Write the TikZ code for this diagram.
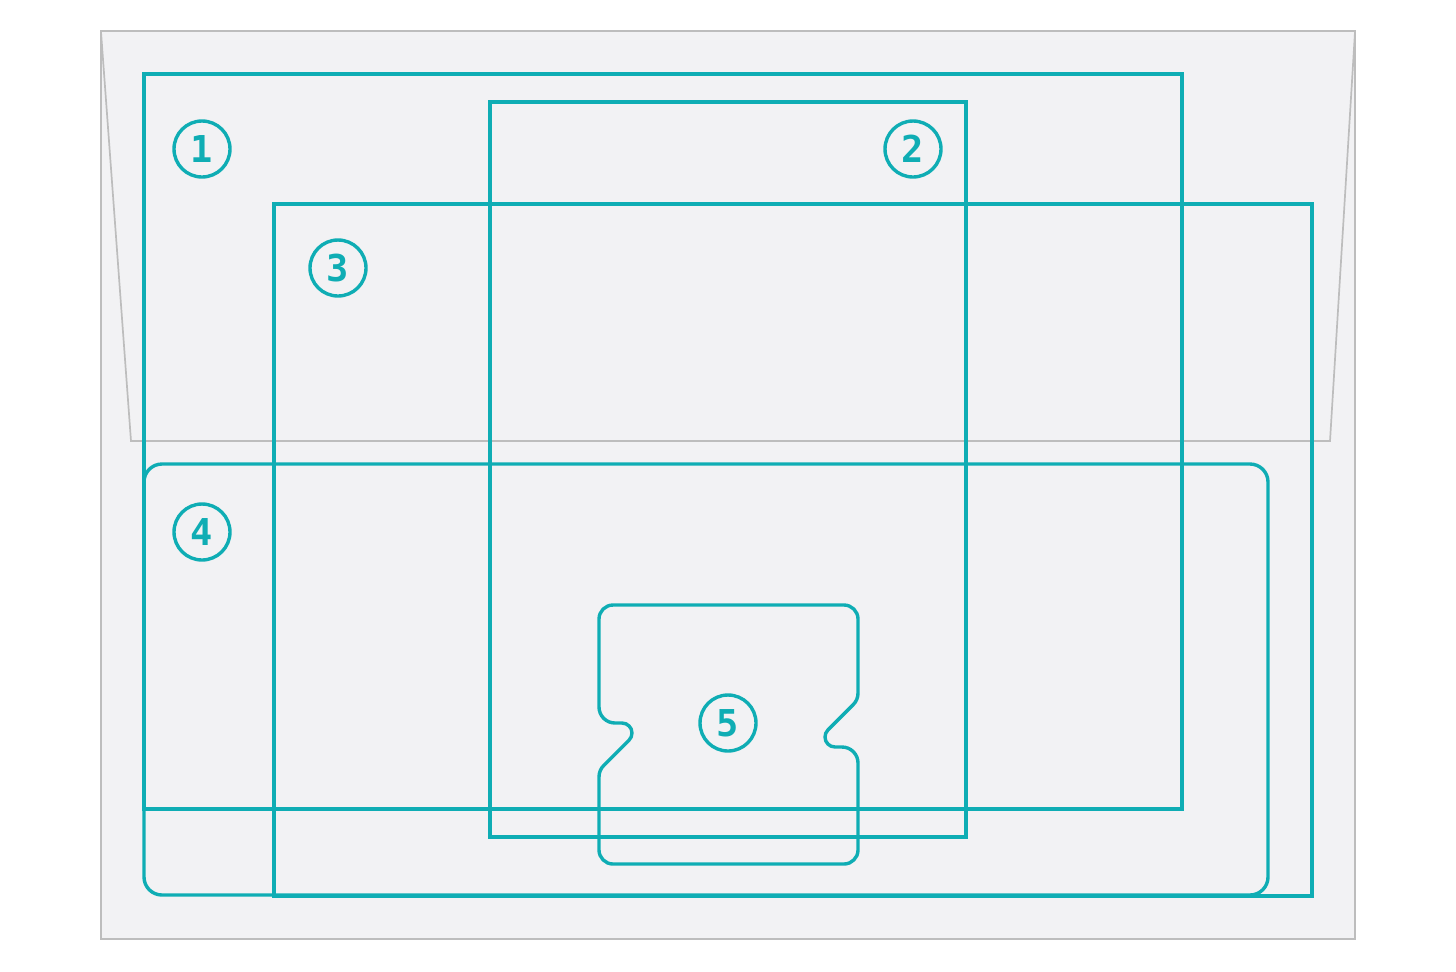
\documentclass[tikz,border=0pt]{standalone}
\usepackage{fontspec}
\newfontfamily\numfont{DejaVu Sans Mono}
\definecolor{tealc}{HTML}{0FADB4}
\definecolor{envfill}{HTML}{F2F2F4}
\definecolor{envline}{HTML}{BDBDBD}
\tikzset{
  cut/.style={draw=tealc, line width=1.7pt, line join=miter},
  env/.style={draw=envline, line width=1pt},
  flap/.style={draw=envline, line width=0.85pt},
  num/.style={circle, draw=tealc, line width=1.7pt, minimum size=28pt, inner sep=0pt, text=tealc, font=\numfont\bfseries\fontsize{18.5}{18.5}\selectfont}
}
\begin{document}
\begin{tikzpicture}[x=0.5pt,y=-0.5pt]
\useasboundingbox (0,0) rectangle (1456,971);
% envelope
\path[env, fill=envfill] (101,31) rectangle (1355,939);
\draw[flap] (101,32) -- (131,441) -- (1330,441) -- (1355,32);
% rectangles
\draw[cut] (144,74) rectangle (1182,809);
\draw[cut] (490,102) rectangle (966,837);
\draw[cut] (274,204) rectangle (1312,896);
\draw[cut, rounded corners=9pt] (144,464) rectangle (1268,895);
% shape 5
\draw[cut] (599,619) -- (599,707)
  arc[start angle=180,end angle=90,radius=16] -- (622,723)
  arc[start angle=270,end angle=405,radius=10] -- (603.69,765.49)
  arc[start angle=225,end angle=180,radius=16] -- (599,850)
  arc[start angle=180,end angle=90,radius=14] -- (844,864)
  arc[start angle=90,end angle=0,radius=14] -- (858,763)
  arc[start angle=360,end angle=270,radius=16] -- (835,747)
  arc[start angle=90,end angle=225,radius=10] -- (853.31,704.51)
  arc[start angle=45,end angle=0,radius=16] -- (858,619)
  arc[start angle=0,end angle=-90,radius=14] -- (613,605)
  arc[start angle=270,end angle=180,radius=14] -- cycle;
% numbers
\node[num] (n1) at (202,149) {1};
\node[num] (n2) at (913,149) {2};
\node[num] (n3) at (338,268) {3};
\node[num] (n4) at (202,532) {4};
\node[num] (n5) at (728,723) {5};
\end{tikzpicture}
\end{document}
